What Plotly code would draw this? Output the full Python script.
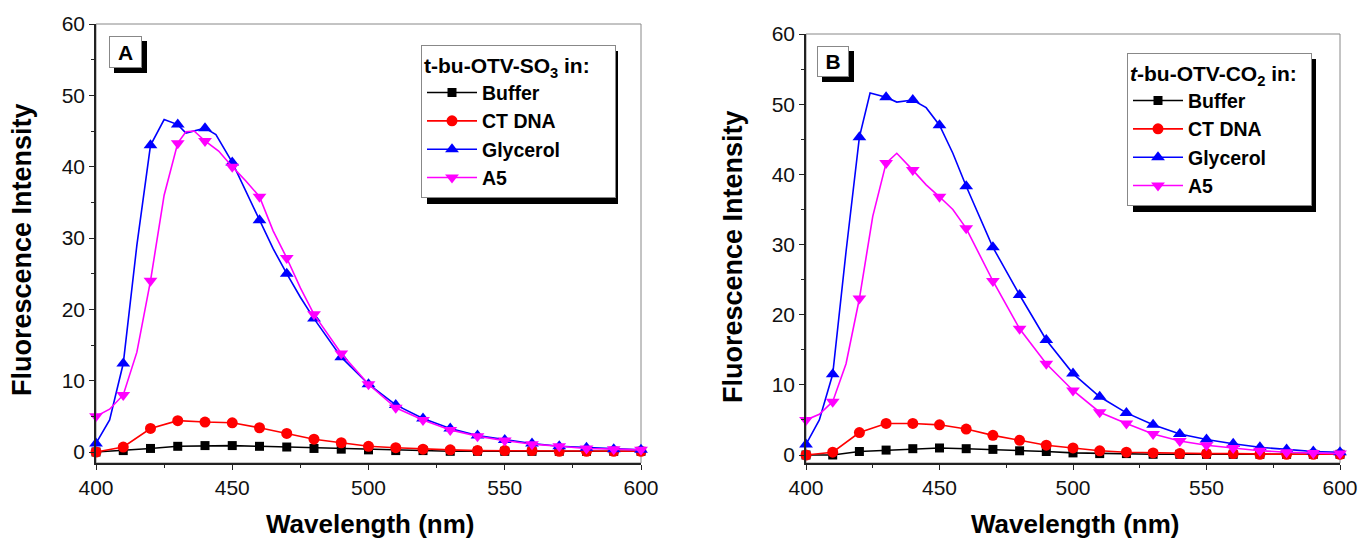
import plotly.graph_objects as go

W, H = 1359, 541

# ---------------- data ----------------
wl_10 = list(range(400, 601, 10))

# Panel A : t-bu-OTV-SO3
buffer_A = [0.0, 0.2, 0.5, 0.8, 0.9, 0.9, 0.8, 0.7, 0.5, 0.4, 0.3, 0.2, 0.2, 0.1, 0.1, 0.1, 0.1, 0.1, 0.1, 0.1, 0.1]
ctdna_A = [0.0, 0.7, 3.3, 4.4, 4.2, 4.1, 3.4, 2.6, 1.8, 1.3, 0.8, 0.6, 0.4, 0.3, 0.2, 0.2, 0.2, 0.1, 0.1, 0.1, 0.1]
glyc_A_wl = [400, 405, 410, 415, 420, 425, 430, 433, 440, 444, 450, 455, 460, 465, 470, 475, 480,
             490, 500, 510, 520, 530, 540, 550, 560, 570, 580, 590, 600]
glyc_A = [1.2, 4.5, 12.4, 29.0, 43.0, 46.6, 45.9, 44.7, 45.4, 44.5, 40.6, 36.5, 32.5, 28.5, 25.0, 21.7, 18.7,
          13.3, 9.5, 6.6, 4.7, 3.3, 2.3, 1.7, 1.2, 0.8, 0.6, 0.4, 0.3]
a5_A_wl = [400, 405, 410, 415, 420, 425, 430, 433, 436, 440, 445, 450, 455, 460, 465, 470, 475, 480,
           490, 500, 510, 520, 530, 540, 550, 560, 570, 580, 590, 600]
a5_A = [5.0, 6.0, 8.0, 14.0, 24.0, 36.0, 43.3, 44.9, 45.0, 43.6, 42.2, 40.0, 38.0, 35.8, 31.0, 27.2, 23.0, 19.3,
        13.8, 9.5, 6.2, 4.5, 3.1, 2.2, 1.6, 1.1, 0.8, 0.5, 0.4, 0.3]

# Panel B : t-bu-OTV-CO2
buffer_B = [0.0, 0.0, 0.5, 0.7, 0.9, 1.0, 0.9, 0.8, 0.6, 0.5, 0.3, 0.2, 0.2, 0.1, 0.1, 0.1, 0.1, 0.1, 0.1, 0.1, 0.1]
ctdna_B = [0.0, 0.4, 3.2, 4.5, 4.5, 4.3, 3.7, 2.8, 2.1, 1.4, 1.0, 0.6, 0.4, 0.3, 0.2, 0.2, 0.2, 0.1, 0.1, 0.1, 0.1]
glyc_B_wl = [400, 405, 410, 415, 420, 424, 430, 434, 440, 445, 450, 455, 460, 465, 470, 480,
             490, 500, 510, 520, 530, 540, 550, 560, 570, 580, 590, 600]
glyc_B = [1.5, 5.0, 11.5, 29.0, 45.3, 51.6, 51.0, 50.3, 50.6, 49.5, 47.0, 43.0, 38.3, 34.0, 29.6, 22.8,
          16.4, 11.6, 8.3, 6.0, 4.3, 3.0, 2.2, 1.6, 1.1, 0.8, 0.5, 0.4]
a5_B_wl = [400, 405, 410, 415, 420, 425, 430, 434, 440, 445, 450, 455, 460, 465, 470, 480,
           490, 500, 510, 520, 530, 540, 550, 560, 570, 580, 590, 600]
a5_B = [5.0, 5.8, 7.6, 13.0, 22.3, 34.0, 41.6, 43.0, 40.6, 38.5, 36.8, 35.0, 32.3, 28.5, 24.8, 18.0,
        13.0, 9.2, 6.1, 4.5, 3.0, 2.0, 1.4, 1.0, 0.6, 0.4, 0.3, 0.2]

series_names = ["Buffer", "CT DNA", "Glycerol", "A5"]
colors = ["#000000", "#ff0000", "#0000ff", "#ff00ff"]
symbols = ["square", "circle", "triangle-up", "triangle-down"]
msizes = [9, 11, 12, 12]

FONT = "Liberation Sans, Arial, sans-serif"


def px_x(p):
    return p / W


def px_y(p):
    return 1 - p / H


fig = go.Figure()

panels = [
    ("x", "y", "legend", [(wl_10, buffer_A), (wl_10, ctdna_A), (glyc_A_wl, glyc_A), (a5_A_wl, a5_A)]),
    ("x2", "y2", "legend2", [(wl_10, buffer_B), (wl_10, ctdna_B), (glyc_B_wl, glyc_B), (a5_B_wl, a5_B)]),
]

for xa, ya, lg, data in panels:
    for i, (xs, ys) in enumerate(data):
        fig.add_trace(go.Scatter(x=xs, y=ys, xaxis=xa, yaxis=ya, mode="lines",
                                 line=dict(color=colors[i], width=1.6),
                                 showlegend=False, hoverinfo="skip"))
        mx = [x for x in xs if x % 10 == 0]
        my = [y for x, y in zip(xs, ys) if x % 10 == 0]
        fig.add_trace(go.Scatter(x=mx, y=my, xaxis=xa, yaxis=ya, mode="markers",
                                 marker=dict(color=colors[i], symbol=symbols[i], size=msizes[i]),
                                 showlegend=False, cliponaxis=False))
    for i in range(4):
        fig.add_trace(go.Scatter(x=[None], y=[None], xaxis=xa, yaxis=ya, mode="lines+markers",
                                 name=series_names[i], legend=lg,
                                 line=dict(color=colors[i], width=1.6),
                                 marker=dict(color=colors[i], symbol=symbols[i], size=msizes[i])))

axis_common = dict(showgrid=False, zeroline=False, showline=True, linecolor="#222222", linewidth=1.5,
                   ticks="outside", ticklen=5, tickwidth=1.2, tickcolor="#222222", automargin=False,
                   tickfont=dict(family=FONT, size=21, color="#111111"))
minor_x = dict(dtick=25, ticks="outside", ticklen=3, tickcolor="#222222")
minor_y = dict(dtick=5, ticks="outside", ticklen=3, tickcolor="#222222")

legend_common = dict(xanchor="left", yanchor="top", bgcolor="white", bordercolor="#888888", borderwidth=1,
                     font=dict(family=FONT, size=19.5, color="#000000", weight="bold"),
                     itemwidth=50, tracegroupgap=0)

fig.update_layout(
    width=W, height=H, margin=dict(l=0, r=0, t=0, b=0, autoexpand=False),
    plot_bgcolor="white", paper_bgcolor="white",
    font=dict(family=FONT),
    xaxis=dict(domain=[px_x(96), px_x(641)], range=[400, 600], dtick=50, anchor="y", minor=minor_x, **axis_common),
    yaxis=dict(domain=[px_y(463), px_y(24)], range=[-1.54, 60], dtick=10, anchor="x", minor=minor_y, **axis_common),
    xaxis2=dict(domain=[px_x(806), px_x(1340)], range=[400, 600], dtick=50, anchor="y2", minor=minor_x, **axis_common),
    yaxis2=dict(domain=[px_y(463), px_y(34)], range=[-1.14, 60], dtick=10, anchor="x2", minor=minor_y, **axis_common),
    legend=dict(x=px_x(421), y=px_y(45),
                title=dict(text="t-bu-OTV-SO<sub>3</sub> in:&nbsp;&nbsp;&nbsp;&nbsp;",
                           font=dict(family=FONT, size=21, color="#000000", weight="bold")),
                **legend_common),
    legend2=dict(x=px_x(1127), y=px_y(53),
                 title=dict(text="<i>t</i>-bu-OTV-CO<sub>2</sub> in:&nbsp;&nbsp;",
                            font=dict(family=FONT, size=21, color="#000000", weight="bold")),
                 **legend_common),
)

shapes = []
for xd, yd in [("x domain", "y domain"), ("x2 domain", "y2 domain")]:
    shapes.append(dict(type="rect", xref=xd, yref=yd, x0=0, x1=1, y0=0, y1=1,
                       line=dict(color="#888888", width=1), layer="below"))


def shadow(x0, y0, x1, y1, off=6):
    shapes.append(dict(type="rect", xref="paper", yref="paper",
                       x0=px_x(x0 + off), x1=px_x(x1 + off), y0=px_y(y1 + off), y1=px_y(y0 + off),
                       fillcolor="black", line=dict(width=0), layer="above"))


shadow(421, 45, 612, 198)      # legend A
shadow(1127, 53, 1310, 206)    # legend B
shadow(109, 36, 142, 68, 5)    # label A
shadow(817, 46, 849, 77, 5)    # label B
fig.update_layout(shapes=shapes)

ann_common = dict(xref="paper", yref="paper", showarrow=False, xanchor="center", yanchor="middle")
annotations = [
    dict(text="<b>A</b>", x=px_x(109), y=px_y(36), xref="paper", yref="paper", showarrow=False,
         xanchor="left", yanchor="top", width=31, height=30,
         borderpad=0, borderwidth=1, bordercolor="#888888", bgcolor="white",
         font=dict(family=FONT, size=21, color="black")),
    dict(text="<b>B</b>", x=px_x(817), y=px_y(46), xref="paper", yref="paper", showarrow=False,
         xanchor="left", yanchor="top", width=30, height=29,
         borderpad=0, borderwidth=1, bordercolor="#888888", bgcolor="white",
         font=dict(family=FONT, size=21, color="black")),
    dict(text="<b>Fluorescence Intensity</b>", x=px_x(22), y=px_y(250), textangle=-90,
         font=dict(family=FONT, size=27, color="black"), **ann_common),
    dict(text="<b>Fluorescence Intensity</b>", x=px_x(733), y=px_y(257), textangle=-90,
         font=dict(family=FONT, size=27, color="black"), **ann_common),
    dict(text="<b>Wavelength (nm)</b>", x=px_x(370), y=px_y(524),
         font=dict(family=FONT, size=26, color="black"), **ann_common),
    dict(text="<b>Wavelength (nm)</b>", x=px_x(1075), y=px_y(524),
         font=dict(family=FONT, size=26, color="black"), **ann_common),
]
fig.update_layout(annotations=annotations)

fig.write_html("out.html", config={"displayModeBar": False},
               post_script="document.body.style.margin='0';document.body.style.padding='0';"
                           "document.documentElement.style.overflow='hidden';")
